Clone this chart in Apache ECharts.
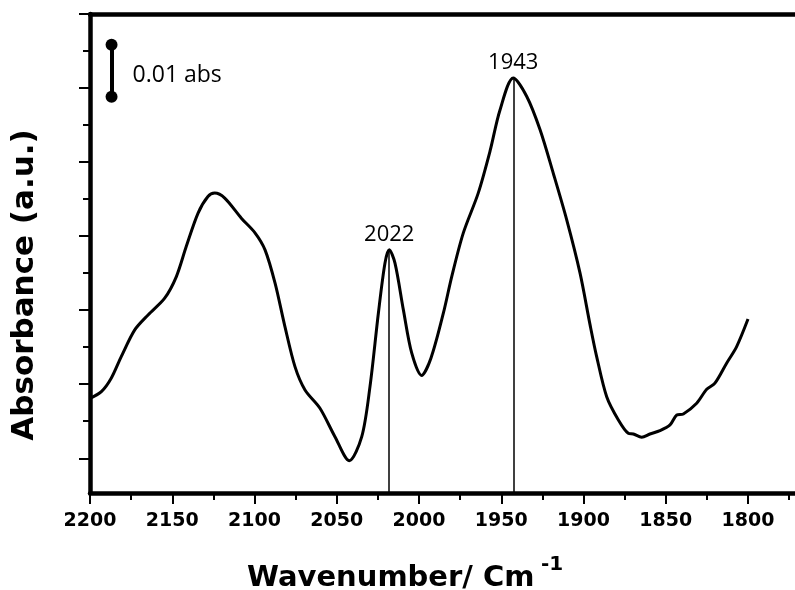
<!DOCTYPE html>
<html><head><meta charset="utf-8">
<script src="https://cdn.jsdelivr.net/npm/echarts@6/dist/echarts.min.js"></script>
<style>html,body{margin:0;padding:0;background:#fff}#c{width:795px;height:590px}</style>
</head><body><div id="c"></div>
<script>
// Spectrum trace (wavenumber in cm^-1, absorbance in arbitrary units = major tick spacing)
const wavenumber = [2200, 2193.1, 2187.1, 2181.0, 2172.8, 2164.7, 2154.6, 2147.5, 2141.5, 2134.3,
  2128.3, 2124.2, 2118.1, 2108.0, 2099.7, 2093.6, 2087.5, 2081.5, 2075.4, 2069.3,
  2060.2, 2051.1, 2042.4, 2034.8, 2029.8, 2024.7, 2020.7, 2018.1, 2014.6, 2009.5,
  2004.4, 1998.4, 1992.7, 1985.2, 1980.1, 1973.1, 1964.0, 1956.8, 1950.8, 1942.7,
  1934.5, 1926.4, 1918.4, 1910.2, 1902.1, 1896.0, 1892.0, 1885.9, 1878.8, 1872.8,
  1869.7, 1864.6, 1859.6, 1853.5, 1847.4, 1843.3, 1839.3, 1831.2, 1825.1, 1820.1,
  1813.0, 1806.9, 1800];
const absorbance = [0.81, 0.90, 1.081, 1.373, 1.734, 1.936, 2.162, 2.454, 2.859, 3.311,
  3.535, 3.581, 3.514, 3.243, 3.045, 2.815, 2.365, 1.778, 1.238, 0.923,
  0.676, 0.292, -0.032, 0.292, 0.968, 1.959, 2.635, 2.815, 2.635, 2.004,
  1.419, 1.119, 1.355, 1.959, 2.454, 3.041, 3.581, 4.15, 4.70, 5.135,
  4.886, 4.436, 3.851, 3.220, 2.5, 1.801, 1.373, 0.832, 0.518, 0.338,
  0.328, 0.284, 0.328, 0.373, 0.45, 0.585, 0.599, 0.743, 0.932, 1.014,
  1.284, 1.508, 1.88];

// Peak markers
const peakWavenumbers = [2018.1, 1942.7];
const peakTops = [2.815, 5.135];
const peakLabels = ['2022', '1943'];

// Scale bar
const scaleBarX = 2186.9;
const scaleBarTop = 5.585;
const scaleBarBottom = 4.882;
const scaleBarLabel = '0.01 abs';

// Axis ticks
const xMin = 1750, xMax = 2200, xStep = 50;
const yMin = -0.469, yMax = 6;
const yMajorTicks = [0, 1, 2, 3, 4, 5, 6];
const yMinorTicks = [0.5, 1.5, 2.5, 3.5, 4.5, 5.5];

const xTitle = 'Wavenumber/ Cm';
const xTitleSup = '-1';
const yTitle = 'Absorbance (a.u.)';

const chart = echarts.init(document.getElementById('c'), null, {renderer: 'canvas'});
const black = '#000';
const axisLineStyle = {color: black, width: 4.5};
const tickStyle = {color: black, width: 2};

const seriesData = wavenumber.map((w, i) => [w, absorbance[i]]);
const peakLines = peakWavenumbers.map((w, i) => [{coord: [w, peakTops[i]]}, {coord: [w, yMin]}]);
const peakPoints = peakWavenumbers.map((w, i) => ({
  coord: [w, peakTops[i]], value: peakLabels[i],
  label: {show: true, position: 'top', distance: 4, formatter: peakLabels[i],
    fontFamily: 'Open Sans', fontSize: 22, color: black}
}));

const option = {
  animation: false,
  backgroundColor: '#fff',
  grid: {left: 90, width: 740.25, top: 14, bottom: 97, containLabel: false, outerBoundsMode: 'none'},
  xAxis: [{
    type: 'value', inverse: true, min: xMin, max: xMax, interval: xStep, position: 'bottom',
    axisLine: {show: true, onZero: false, lineStyle: axisLineStyle},
    axisTick: {show: true, length: 11, lineStyle: tickStyle},
    minorTick: {show: true, splitNumber: 2, length: 7, lineStyle: tickStyle},
    axisLabel: {color: black, fontFamily: 'DejaVu Sans', fontWeight: 'bold', fontSize: 19, margin: 19,
      formatter: v => String(v)},
    splitLine: {show: false}
  }, {
    type: 'value', inverse: true, min: xMin, max: xMax, position: 'top',
    axisLine: {show: true, onZero: false, lineStyle: axisLineStyle},
    axisTick: {show: false}, axisLabel: {show: false}, splitLine: {show: false}
  }],
  yAxis: [{
    type: 'value', min: yMin, max: yMax, position: 'left',
    axisLine: {show: true, onZero: false, lineStyle: axisLineStyle},
    axisTick: {show: true, length: 11, customValues: yMajorTicks, lineStyle: tickStyle},
    axisLabel: {show: false}, splitLine: {show: false}
  }, {
    type: 'value', min: yMin, max: yMax, position: 'left',
    axisLine: {show: false},
    axisTick: {show: true, length: 7, customValues: yMinorTicks, lineStyle: tickStyle},
    axisLabel: {show: false}, splitLine: {show: false}
  }],
  series: [{
    type: 'line', xAxisIndex: 0, yAxisIndex: 0,
    data: seriesData, smooth: 0.3, showSymbol: false, symbol: 'none',
    lineStyle: {color: black, width: 3}, z: 3,
    markLine: {
      silent: true, symbol: 'none', animation: false,
      lineStyle: {color: black, width: 1.5, type: 'solid'},
      label: {show: false},
      data: peakLines
    },
    markPoint: {
      silent: true, symbol: 'circle', symbolSize: 0,
      itemStyle: {color: 'rgba(0,0,0,0)'},
      data: peakPoints.concat([{
        coord: [scaleBarX, (scaleBarTop + scaleBarBottom) / 2], value: scaleBarLabel,
        label: {show: true, position: 'right', distance: 21, offset: [0, 5], formatter: scaleBarLabel,
          fontFamily: 'Open Sans', fontSize: 23, color: black}
      }])
    }
  }, {
    type: 'line', xAxisIndex: 0, yAxisIndex: 0, data: [],
    markLine: {
      silent: true, symbol: ['circle', 'circle'], symbolSize: 12, animation: false,
      lineStyle: {color: black, width: 4, type: 'solid'},
      itemStyle: {color: black},
      label: {show: false},
      data: [[{coord: [scaleBarX, scaleBarTop]}, {coord: [scaleBarX, scaleBarBottom]}]]
    }
  }],
  graphic: [{
    type: 'text', x: 247, y: 578,
    style: {text: xTitle, font: 'bold 29px "DejaVu Sans"', fill: black, textAlign: 'left', textVerticalAlign: 'middle'}
  }, {
    type: 'text', x: 541, y: 565,
    style: {text: xTitleSup, font: 'bold 20px "DejaVu Sans"', fill: black, textAlign: 'left', textVerticalAlign: 'middle'}
  }, {
    type: 'text', x: 25, y: 285, rotation: Math.PI / 2,
    style: {text: yTitle, font: 'bold 31px "DejaVu Sans"', fill: black, textAlign: 'center', textVerticalAlign: 'middle'}
  }]
};
chart.setOption(option);
</script>
</body></html>
